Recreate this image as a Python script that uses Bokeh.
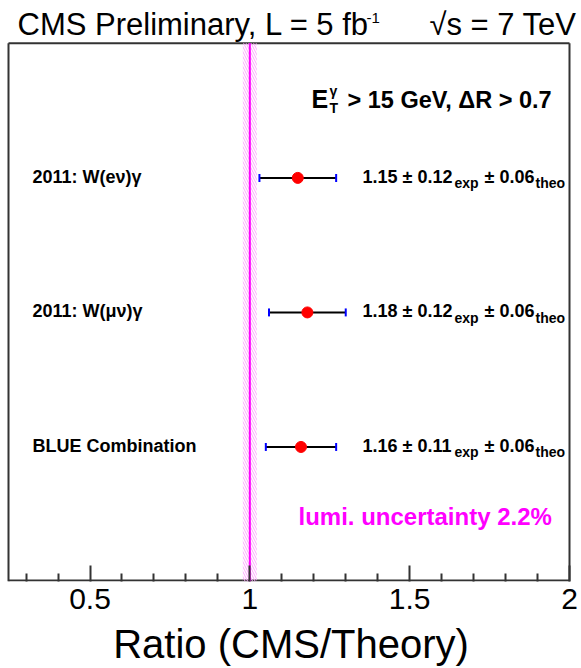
from bokeh.plotting import figure
from bokeh.models import Range1d, FixedTicker, Label
from bokeh.embed import file_html
from bokeh.resources import INLINE

# ---------------- data ----------------
channels = ["2011: W(eν)γ", "2011: W(μν)γ", "BLUE Combination"]
ratio = [1.15, 1.18, 1.16]
err_exp = [0.12, 0.12, 0.11]
err_theo = [0.06, 0.06, 0.06]
row_pos = [3, 2, 1]
lumi_unc = 0.022
x_major_ticks = [0.5, 1.0, 1.5, 2.0]
x_tick_labels = ["0.5", "1", "1.5", "2"]
x_minor_ticks = [0.3, 0.4, 0.6, 0.7, 0.8, 0.9, 1.1, 1.2, 1.3, 1.4, 1.6, 1.7, 1.8, 1.9]

# ---------------- layout ----------------
W, H = 581, 668
FL, FR, FT, FB = 8, 569, 43, 583          # visible box (px)
XMIN, XMAX, YMIN, YMAX = 0.245, 2.0, 0.0, 4.0
PXU = (FR - FL) / (XMAX - XMIN)
PYU = (FB - FT) / (YMAX - YMIN)

def px2x(px):
    return XMIN + (px - FL) / PXU

def py2y(py):
    return YMAX - (py - FT) / PYU

FONT = "Liberation Sans"
FRAME_COL = "#333333"

# the bokeh frame covers the whole canvas above the axis, so that the
# header texts are not clipped; the visible box is drawn with segments
p = figure(width=W, height=H, output_backend="svg", toolbar_location=None,
           x_range=Range1d(px2x(0), px2x(W)), y_range=Range1d(YMIN, py2y(0)),
           min_border_left=0, min_border_right=0, min_border_top=0,
           min_border_bottom=H - FB)
p.background_fill_color = "white"
p.border_fill_color = "white"
p.outline_line_color = None
p.xgrid.visible = False
p.ygrid.visible = False
p.yaxis.visible = False

ax = p.xaxis[0]
ax.ticker = FixedTicker(ticks=x_major_ticks, minor_ticks=x_minor_ticks)
ax.major_label_overrides = {t: l for t, l in zip(x_major_ticks, x_tick_labels)}
ax.axis_line_color = None
ax.major_tick_in = 16
ax.major_tick_out = 0
ax.minor_tick_in = 8
ax.minor_tick_out = 0
ax.major_tick_line_color = FRAME_COL
ax.major_tick_line_width = 2
ax.minor_tick_line_color = FRAME_COL
ax.minor_tick_line_width = 2
ax.major_label_text_font = FONT
ax.major_label_text_font_size = "30px"
ax.major_label_text_color = "black"
ax.major_label_standoff = 7
ax.axis_label = "Ratio (CMS/Theory)"
ax.axis_label_text_font = FONT
ax.axis_label_text_font_size = "40px"
ax.axis_label_text_font_style = "normal"
ax.axis_label_text_color = "black"
ax.axis_label_standoff = 10

# visible box
edge = 1 / PYU
p.segment(x0=[XMIN, XMIN, XMAX, XMIN], x1=[XMAX, XMIN, XMAX, XMAX],
          y0=[YMAX, YMIN, YMIN, YMIN + edge], y1=[YMAX, YMAX, YMAX, YMIN + edge],
          line_color=FRAME_COL, line_width=2)

# lumi band (hatched) and line at 1
p.quad(left=[1 - lumi_unc], right=[1 + lumi_unc], bottom=[YMIN], top=[YMAX],
       fill_alpha=0, line_alpha=0, hatch_pattern="\\", hatch_color="#ffa6ff",
       hatch_scale=5, hatch_weight=1)
p.segment(x0=[1.0], x1=[1.0], y0=[YMIN], y1=[YMAX], line_color="#ff00ff", line_width=2)

# error bars
lo = [r - e for r, e in zip(ratio, err_exp)]
hi = [r + e for r, e in zip(ratio, err_exp)]
p.segment(x0=lo, x1=hi, y0=row_pos, y1=row_pos, line_color="black", line_width=2)
cap = 4 / PYU
yb = [y - cap for y in row_pos]
yt = [y + cap for y in row_pos]
p.segment(x0=lo, x1=lo, y0=yb, y1=yt, line_color="#0000ff", line_width=2)
p.segment(x0=hi, x1=hi, y0=yb, y1=yt, line_color="#0000ff", line_width=2)
p.scatter(x=ratio, y=row_pos, size=11, fill_color="#ff0000", line_color="#ff0000")

def lab(text, px, py, size, style="normal", color="black", align="left"):
    # py is the wanted baseline (px from top); place by em-box middle
    mid = py - 0.3465 * size
    p.add_layout(Label(x=px2x(px), y=py2y(mid), text=text, text_font=FONT,
                       text_font_size=f"{size}px", text_font_style=style,
                       text_color=color, text_align=align,
                       text_baseline="middle"))

# row labels and values
for name, r, ee, et, y in zip(channels, ratio, err_exp, err_theo, row_pos):
    row_py = FB - (y - YMIN) * PYU
    base = row_py + 5
    lab(name, 32, base, 18, "bold")
    lab(f"{r:.2f} ± {ee:.2f}", 362, base, 18, "bold")
    lab("exp", 454, base + 5, 14, "bold")
    lab(f"± {et:.2f}", 484, base, 18, "bold")
    lab("theo", 535, base + 5, 14, "bold")

# header
lab("CMS Preliminary, L = 5 fb", 17, 35, 31)
lab("-1", 366, 23, 15)
lab("√s = 7 TeV", 576, 35, 31, align="right")

# cuts
lab("E", 311, 108, 25, "bold")
lab("T", 329, 113, 14, "bold")
lab("γ", 329, 96, 14, "bold")
lab("> 15 GeV, ΔR > 0.7", 347, 108, 23.5, "bold")

# lumi text
lab("lumi. uncertainty 2.2%", 298, 526, 24, "bold", color="#ff00ff")

open("out.html", "w").write(file_html(p, INLINE))
